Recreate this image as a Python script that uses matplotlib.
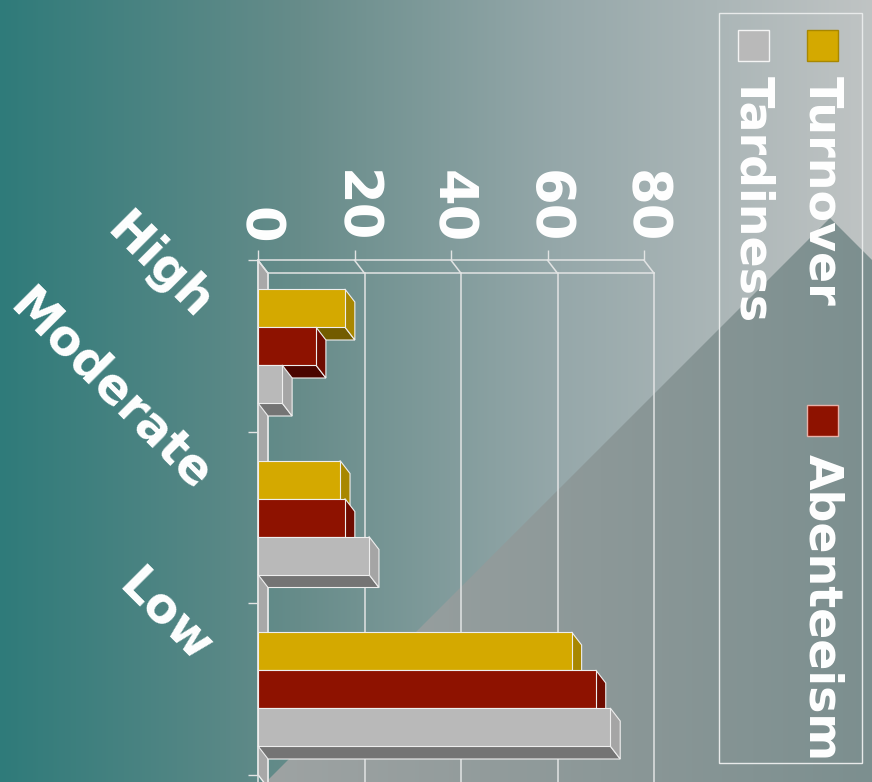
import numpy as np
import matplotlib
matplotlib.use("Agg")
import matplotlib.pyplot as plt
from matplotlib.patches import Polygon, Rectangle

# data
categories = ["High", "Moderate", "Low"]
series_names = ["Turnover", "Abenteeism", "Tardiness"]
turnover = [18, 17, 65]
absenteeism = [12, 18, 70]
tardiness = [5, 23, 73]
value_ticks = [0, 20, 40, 60, 80]

series_values = [turnover, absenteeism, tardiness]
front_colors = ["#d4a900", "#8e1200", "#b9b9b9"]
side_colors = ["#a88700", "#6e0c00", "#a5a5a5"]
bottom_colors = ["#735c00", "#4a0500", "#747474"]

plt.rcParams["font.family"] = "DejaVu Sans"
plt.rcParams["font.weight"] = "bold"

W, H = 872, 782
fig = plt.figure(figsize=(W / 100, H / 100), dpi=100)

# ---- background (pixel coordinates) ----
bg = fig.add_axes([0, 0, 1, 1])
bg.set_xlim(0, W)
bg.set_ylim(H, 0)
bg.axis("off")


def hgrad(stops_x, stops_rgb):
    xs = np.arange(W)
    rgb = np.array(stops_rgb, dtype=float) / 255.0
    cols = [np.interp(xs, stops_x, rgb[:, k]) for k in range(3)]
    row = np.stack(cols, axis=-1)
    return np.repeat(row[None, :, :], 2, axis=0)


outer = hgrad([0, 300, 560, 872],
              [(47, 123, 122), (103, 140, 138), (150, 168, 170), (192, 196, 196)])
bg.imshow(outer, extent=(0, W, H, 0), aspect="auto", zorder=0)

inner = hgrad([266, 600, 872], [(158, 163, 163), (140, 152, 152), (124, 143, 143)])
im2 = bg.imshow(inner, extent=(0, W, H, 0), aspect="auto", zorder=1)
tri = Polygon([(266, 782), (830, 218), (872, 260), (872, 782)], closed=True,
              transform=bg.transData)
im2.set_clip_path(tri)

# ---- legend (drawn by hand, rotated text) ----
bg.add_patch(Rectangle((719, 13), 143, 750, fill=False, ec="#e8eaea", lw=1.0, zorder=3))
legend_pos = [(822, 45, 76), (822, 420, 454), (753, 45, 76)]
swatch_edges = ["#a88700", "#e8b0a8", "#f4f4f4"]
for name, (cx, sy, ty), fc, ec in zip(series_names, legend_pos, front_colors, swatch_edges):
    bg.add_patch(Rectangle((cx - 15.5, sy - 15.5), 31, 31, fc=fc, ec=ec, lw=1.0, zorder=3))
    bg.text(cx, ty, name, rotation=-90, ha="center", va="top", color="white",
            fontsize=33, fontweight="bold", zorder=4)

# ---- chart ----
px_per_val = 4.825
px_per_cat = 171.5
x0_px, c0_px = 258, 346
top_c = -0.5
bot_c = (H - c0_px) / px_per_cat
ax = fig.add_axes([x0_px / W, 0, (80 * px_per_val) / W, (H - (c0_px + top_c * px_per_cat)) / H])
ax.set_xlim(0, 80)
ax.set_ylim(bot_c, top_c)
ax.patch.set_alpha(0)

dx = 10 / px_per_val
dy = 13 / px_per_cat
bar_h = 38 / px_per_cat
line_c = "#e2e4e4"

# floor strip (left wall)
ax.add_patch(Polygon([(0, -0.5), (dx, -0.5 + dy), (dx, 2.5 + dy), (0, 2.5)],
                     closed=True, fc="#a8a8a8", ec="#f0f0f0", lw=1.0, zorder=1,
                     clip_on=False))
# back wall grid
for v in value_ticks:
    ax.plot([v, v + dx], [-0.5, -0.5 + dy], color=line_c, lw=1.1, zorder=1, clip_on=False)
    ax.plot([v + dx, v + dx], [-0.5 + dy, bot_c + 0.1], color=line_c, lw=1.1, zorder=1,
            clip_on=False)
ax.plot([dx, 80 + dx], [-0.5 + dy, -0.5 + dy], color=line_c, lw=1.1, zorder=1, clip_on=False)

# 3d bars
ypos = np.arange(len(categories))
for k, vals in enumerate(series_values):
    yc = ypos + (k - 1) * bar_h
    z = 3 + k
    for y, v in zip(yc, vals):
        y_top = y - bar_h / 2
        y_bot = y + bar_h / 2
        ax.add_patch(Polygon([(0, y_bot), (v, y_bot), (v + dx, y_bot + dy), (dx, y_bot + dy)],
                             closed=True, fc=bottom_colors[k], ec="#eeeeee", lw=0.8,
                             zorder=z, clip_on=False))
        ax.add_patch(Polygon([(v, y_top), (v + dx, y_top + dy), (v + dx, y_bot + dy), (v, y_bot)],
                             closed=True, fc=side_colors[k], ec="#eeeeee", lw=0.8,
                             zorder=z, clip_on=False))
    ax.barh(yc, vals, height=bar_h, left=0, color=front_colors[k], edgecolor="#eeeeee",
            linewidth=0.8, zorder=z + 0.5, clip_on=False)

# axes styling
for s in ["right", "bottom"]:
    ax.spines[s].set_visible(False)
for s in ["top", "left"]:
    ax.spines[s].set_color(line_c)
    ax.spines[s].set_linewidth(1.1)
    ax.spines[s].set_zorder(2)

ax.xaxis.set_ticks_position("top")
ax.set_xticks(value_ticks)
ax.set_xticklabels([str(v) for v in value_ticks])
ax.tick_params(axis="x", direction="out", length=7.2, width=1.0, color=line_c, pad=5,
               labelsize=38, labelcolor="white", labelrotation=-90)
ax.set_yticks([-0.5, 0.5, 1.5, 2.5])
ax.set_yticklabels([])
ax.tick_params(axis="y", direction="out", length=7.2, width=1.0, color=line_c)

for i, cat in enumerate(categories):
    ax.annotate(cat, xy=(0, i), xytext=(-64, 24), textcoords="offset pixels",
                ha="right", va="baseline", rotation=-45, rotation_mode="anchor",
                color="white", fontsize=35, fontweight="bold", annotation_clip=False)

fig.savefig("out.png", dpi=100)
